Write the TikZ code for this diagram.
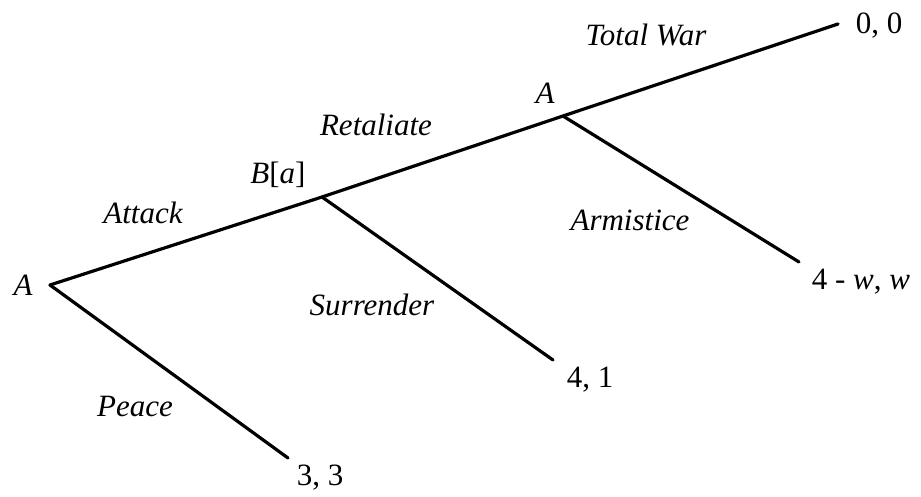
\documentclass[tikz,border=0pt]{standalone}
\usepackage{fontspec}
\setmainfont{Liberation Serif}
\begin{document}
\begin{tikzpicture}[x=1pt,y=-1pt,
  branch/.style={line width=3.2pt,line cap=round,line join=round},
  lbl/.style={font=\fontsize{31}{33}\selectfont\itshape,inner sep=0pt},
  pay/.style={font=\fontsize{31}{33}\selectfont,inner sep=0pt}]
\useasboundingbox (0,0) rectangle (921,497);
\coordinate (r) at (50,285);
\coordinate (b) at (322,197);
\coordinate (a2) at (563,116);
\coordinate (tw) at (838,24);
\coordinate (ar) at (799,262);
\coordinate (su) at (553,360);
\coordinate (pe) at (288,458);
\draw[branch] (r) -- (b) -- (a2) -- (tw);
\draw[branch] (r) -- (pe);
\draw[branch] (b) -- (su);
\draw[branch] (a2) -- (ar);
\node[lbl] (lA) at (23,285) {A};
\node[lbl] (lB) at (278,175) {B\upshape[\itshape a\upshape]};
\node[lbl] (lA2) at (545,93) {A};
\node[lbl] (lat) at (143,213) {Attack};
\node[lbl] (lre) at (376,125) {Retaliate};
\node[lbl] (ltw) at (646,35) {Total War};
\node[lbl] (lpe) at (135,407) {Peace};
\node[lbl] (lsu) at (372,305) {Surrender};
\node[lbl] (lar) at (630,220) {Armistice};
\node[pay] (p00) at (879,26) {0, 0};
\node[pay] (pw) at (861,282) {4 - \textit{w}, \textit{w}};
\node[pay] (p41) at (590,380) {4, 1};
\node[pay] (p33) at (320,478) {3, 3};
\end{tikzpicture}
\end{document}
